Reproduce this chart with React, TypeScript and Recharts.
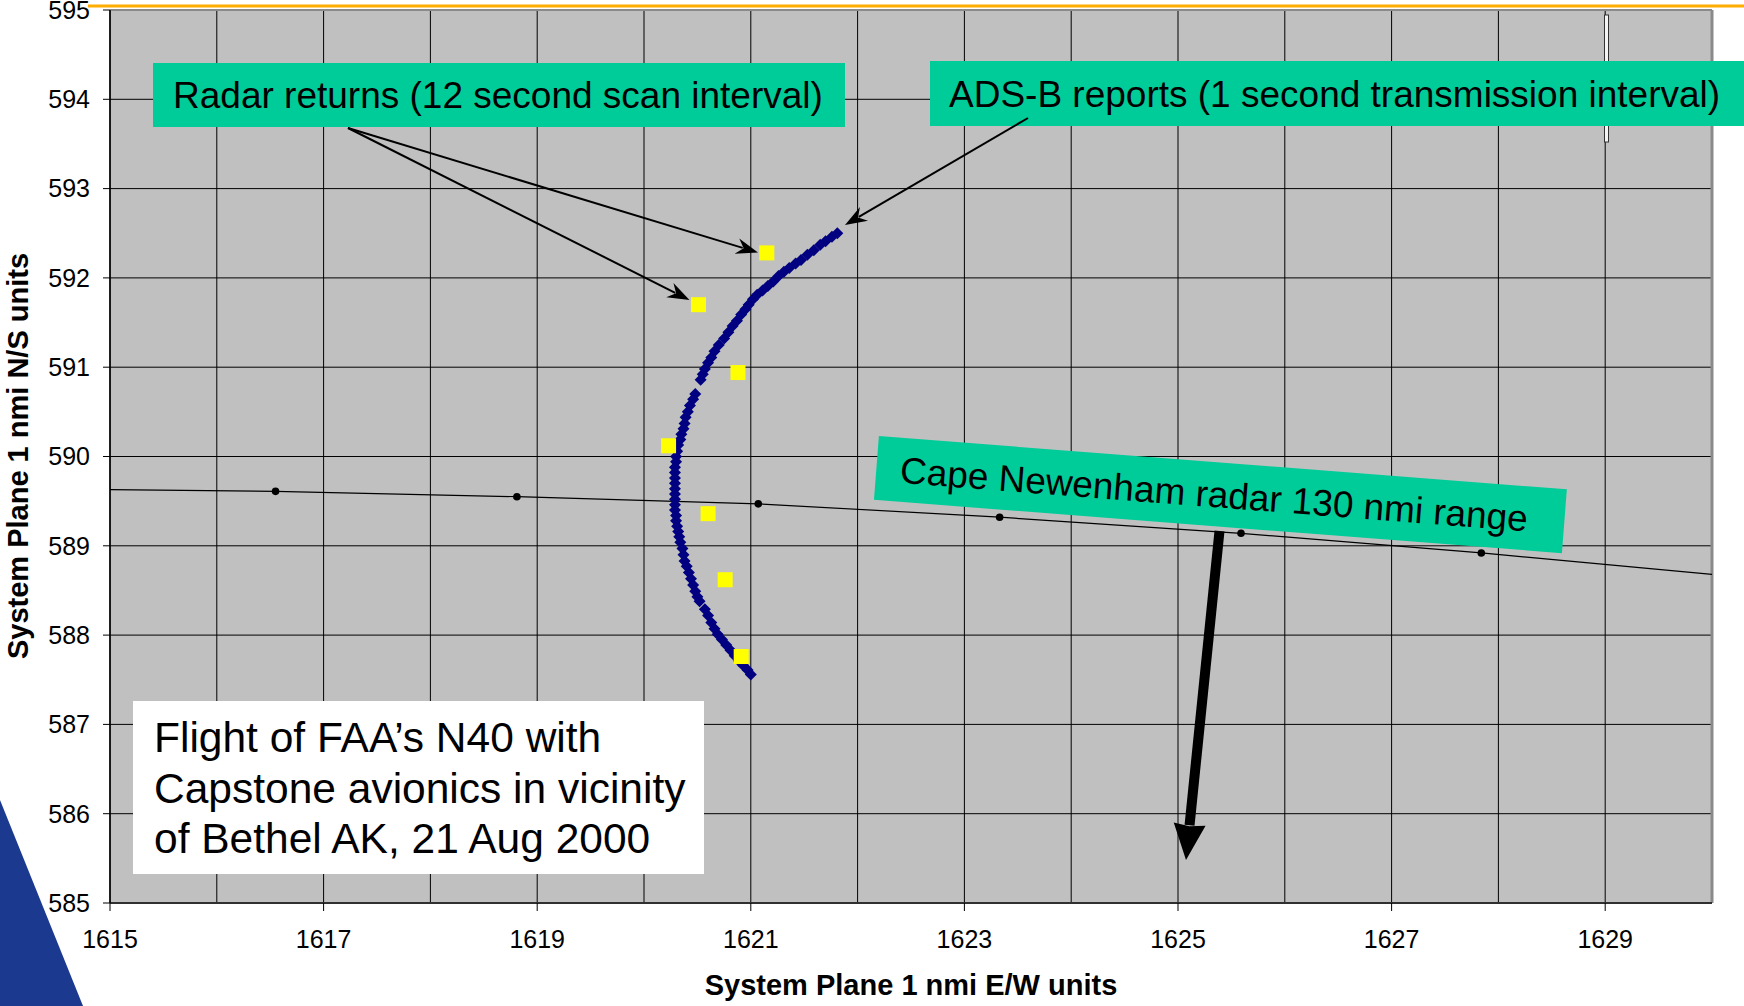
import React from 'react';
import {
  ScatterChart,
  Scatter,
  XAxis,
  YAxis,
  CartesianGrid,
  ReferenceLine,
} from 'recharts';

// ---------- data ----------
const X_TICKS = [1615, 1617, 1619, 1621, 1623, 1625, 1627, 1629];
const X_MINOR_GRID = [1616, 1618, 1620, 1622, 1624, 1626, 1628];
const Y_TICKS = [585, 586, 587, 588, 589, 590, 591, 592, 593, 594, 595];

// Radar returns (12 s scan interval)
const RADAR_POINTS: [number, number][] = [
  [1621.15, 592.28],
  [1620.51, 591.7],
  [1620.88, 590.94],
  [1620.23, 590.12],
  [1620.6, 589.36],
  [1620.76, 588.62],
  [1620.91, 587.76],
];

// ADS-B reports (1 s transmission interval)
const ADSB_POINTS: [number, number][] = [
  [1621.81, 592.5], [1621.76, 592.46], [1621.7, 592.41], [1621.65, 592.37],
  [1621.59, 592.31], [1621.53, 592.26], [1621.47, 592.2], [1621.42, 592.16],
  [1621.36, 592.11], [1621.31, 592.07], [1621.26, 592.02], [1621.21, 591.96],
  [1621.16, 591.91], [1621.11, 591.86], [1621.06, 591.81], [1621.02, 591.76],
  [1620.98, 591.7], [1620.95, 591.65], [1620.91, 591.59], [1620.87, 591.52],
  [1620.83, 591.46], [1620.79, 591.39], [1620.75, 591.32], [1620.7, 591.25],
  [1620.66, 591.18], [1620.63, 591.11], [1620.6, 591.05], [1620.57, 590.98],
  [1620.55, 590.92], [1620.53, 590.86],
  [1620.48, 590.7], [1620.46, 590.64], [1620.43, 590.57], [1620.41, 590.5],
  [1620.39, 590.44], [1620.38, 590.37], [1620.37, 590.31], [1620.35, 590.25],
  [1620.34, 590.19], [1620.32, 590.13], [1620.31, 590.06], [1620.3, 590.0],
  [1620.3, 589.94], [1620.29, 589.88], [1620.29, 589.82], [1620.29, 589.76],
  [1620.29, 589.7], [1620.29, 589.64], [1620.29, 589.58], [1620.29, 589.52],
  [1620.29, 589.46], [1620.29, 589.4], [1620.3, 589.34], [1620.3, 589.28],
  [1620.31, 589.22], [1620.32, 589.16], [1620.33, 589.1], [1620.34, 589.04],
  [1620.36, 588.97], [1620.37, 588.9], [1620.38, 588.83], [1620.4, 588.77],
  [1620.42, 588.7], [1620.44, 588.63], [1620.46, 588.56], [1620.48, 588.49],
  [1620.5, 588.43], [1620.52, 588.38],
  [1620.57, 588.29], [1620.6, 588.22], [1620.63, 588.14], [1620.66, 588.07],
  [1620.69, 588.01], [1620.73, 587.95], [1620.77, 587.89], [1620.81, 587.83],
  [1620.85, 587.77], [1620.89, 587.71], [1620.93, 587.66], [1620.97, 587.61],
  [1621.0, 587.56],
];

// Cape Newenham radar 130 nmi range arc
const RANGE_LINE: [number, number][] = [
  [1615.0, 589.63], [1616.55, 589.61], [1618.81, 589.55], [1621.07, 589.47],
  [1623.33, 589.32], [1625.59, 589.14], [1627.84, 588.92], [1630.0, 588.68],
];
const RANGE_DOTS: [number, number][] = [
  [1616.55, 589.61], [1618.81, 589.55], [1621.07, 589.47],
  [1623.33, 589.32], [1625.59, 589.14], [1627.84, 588.92],
];

const toXY = (pts: [number, number][]) => pts.map(([x, y]) => ({ x, y }));

const FONT = '"Liberation Sans", Arial, Helvetica, sans-serif';
const GREEN = '#00CC99';

// ---------- shapes ----------
const Diamond = (props: any) => {
  const { cx, cy } = props;
  const r = 6;
  return (
    <polygon
      points={`${cx},${cy - r} ${cx + r},${cy} ${cx},${cy + r} ${cx - r},${cy}`}
      fill="#000080"
    />
  );
};

const Square = (props: any) => {
  const { cx, cy } = props;
  const s = 15;
  return <rect x={cx - s / 2} y={cy - s / 2} width={s} height={s} fill="#FFFF00" />;
};

const Dot = (props: any) => {
  const { cx, cy } = props;
  return <circle cx={cx} cy={cy} r={3.8} fill="#000" />;
};

const NoShape = () => <g />;

// ---------- annotation helpers ----------
function headPoints(x1: number, y1: number, x2: number, y2: number, len: number, half: number, notch: number) {
  const dx = x2 - x1;
  const dy = y2 - y1;
  const L = Math.hypot(dx, dy);
  const ux = dx / L;
  const uy = dy / L;
  const nx = -uy;
  const ny = ux;
  const bx = x2 - ux * len;
  const by = y2 - uy * len;
  const mx = x2 - ux * notch;
  const my = y2 - uy * notch;
  return {
    pts: `${x2},${y2} ${bx + nx * half},${by + ny * half} ${mx},${my} ${bx - nx * half},${by - ny * half}`,
    end: [x2 - ux * (notch + 1), y2 - uy * (notch + 1)],
  };
}

const ThinArrow = ({ x1, y1, x2, y2 }: { x1: number; y1: number; x2: number; y2: number }) => {
  const h = headPoints(x1, y1, x2, y2, 22, 8, 15);
  return (
    <g>
      <line x1={x1} y1={y1} x2={h.end[0]} y2={h.end[1]} stroke="#000" strokeWidth={2} />
      <polygon points={h.pts} fill="#000" />
    </g>
  );
};

const BigArrow = ({ x1, y1, x2, y2 }: { x1: number; y1: number; x2: number; y2: number }) => {
  const h = headPoints(x1, y1, x2, y2, 36, 16, 34);
  return (
    <g>
      <line x1={x1} y1={y1} x2={h.end[0]} y2={h.end[1]} stroke="#000" strokeWidth={10} />
      <polygon points={h.pts} fill="#000" />
    </g>
  );
};

const XLabel = () => (
  <text x={911} y={995} textAnchor="middle" fontFamily={FONT} fontWeight="bold" fontSize={29} fill="#000">
    System Plane 1 nmi E/W units
  </text>
);

const YLabel = () => (
  <text
    x={28}
    y={456}
    transform="rotate(-90, 28, 456)"
    textAnchor="middle"
    fontFamily={FONT}
    fontWeight="bold"
    fontSize={29}
    fill="#000"
  >
    System Plane 1 nmi N/S units
  </text>
);

export default function App() {
  return (
    <div
      style={{
        position: 'absolute',
        left: 0,
        top: 0,
        width: 1744,
        height: 1006,
        background: '#fff',
        overflow: 'hidden',
      }}
    >
      {/* slide background wedge */}
      <svg width={1744} height={1006} style={{ position: 'absolute', left: 0, top: 0 }}>
        <polygon points="0,800 83,1006 0,1006" fill="#1B3A8F" />
      </svg>

      <div style={{ position: 'absolute', left: 0, top: 0 }}>
        <ScatterChart width={1744} height={1006} margin={{ top: 10, right: 32, bottom: 43, left: 50 }}>
          <CartesianGrid stroke="#000" strokeWidth={1} fill="#C0C0C0" fillOpacity={1} />
          <XAxis
            type="number"
            dataKey="x"
            domain={[1615, 1630]}
            ticks={X_TICKS}
            interval={0}
            allowDataOverflow
            height={60}
            tickSize={8}
            tickMargin={19}
            axisLine={{ stroke: '#303030', strokeWidth: 2 }}
            tickLine={{ stroke: '#000' }}
            tick={{ fill: '#000', fontSize: 25, fontFamily: FONT }}
            label={{ content: () => <XLabel /> }}
          />
          <YAxis
            type="number"
            dataKey="y"
            domain={[585, 595]}
            ticks={Y_TICKS}
            interval={0}
            allowDataOverflow
            width={60}
            tickSize={7}
            tickMargin={13}
            axisLine={{ stroke: '#000', strokeWidth: 1.5 }}
            tickLine={{ stroke: '#000' }}
            tick={{ fill: '#000', fontSize: 25, fontFamily: FONT }}
            label={{ content: () => <YLabel /> }}
          />
          {X_MINOR_GRID.map((v) => (
            <ReferenceLine key={v} x={v} stroke="#000" strokeWidth={1} ifOverflow="visible" />
          ))}
          <ReferenceLine y={595} stroke="#8a8a8a" strokeWidth={2} />
          <ReferenceLine x={1630} stroke="#8a8a8a" strokeWidth={3} />
          <Scatter
            data={toXY(RANGE_LINE)}
            line={{ stroke: '#000', strokeWidth: 1.2 }}
            shape={NoShape}
            isAnimationActive={false}
          />
          <Scatter data={toXY(RANGE_DOTS)} shape={Dot} isAnimationActive={false} />
          <Scatter data={toXY(ADSB_POINTS)} shape={Diamond} isAnimationActive={false} />
          <Scatter data={toXY(RADAR_POINTS)} shape={Square} isAnimationActive={false} />
        </ScatterChart>
      </div>

      {/* annotations */}
      <svg
        width={1744}
        height={1006}
        style={{ position: 'absolute', left: 0, top: 0, pointerEvents: 'none' }}
        fontFamily={FONT}
      >
        <line x1={88} y1={6} x2={1744} y2={6} stroke="#FFAD00" strokeWidth={3} />
        <rect x={1604.5} y={15} width={4} height={127} fill="#f4f4f4" stroke="#333" strokeWidth={1} />

        <rect x={133} y={701} width={571} height={173} fill="#fff" />
        <text fontSize={42.5} fill="#000">
          <tspan x={154} y={752}>Flight of FAA’s N40 with</tspan>
          <tspan x={154} y={803}>Capstone avionics in vicinity</tspan>
          <tspan x={154} y={853}>of Bethel AK, 21 Aug 2000</tspan>
        </text>

        <rect x={153} y={63} width={692} height={64} fill={GREEN} />
        <text x={173} y={108} fontSize={37} fill="#000">
          Radar returns (12 second scan interval)
        </text>

        <rect x={930} y={61} width={814} height={65} fill={GREEN} />
        <text x={949} y={107} fontSize={37} fill="#000">
          ADS-B reports (1 second transmission interval)
        </text>

        <g transform="translate(1220.4,494.6) rotate(4.43)">
          <rect x={-345} y={-32} width={690} height={64} fill={GREEN} />
          <text x={-321} y={13} fontSize={37} fill="#000">
            Cape Newenham radar 130 nmi range
          </text>
        </g>

        <ThinArrow x1={348} y1={128} x2={758} y2={252.5} />
        <ThinArrow x1={348} y1={128} x2={689.5} y2={300} />
        <ThinArrow x1={1028} y1={118} x2={845} y2={225} />
        <BigArrow x1={1219.5} y1={531} x2={1186} y2={860} />
      </svg>
    </div>
  );
}
